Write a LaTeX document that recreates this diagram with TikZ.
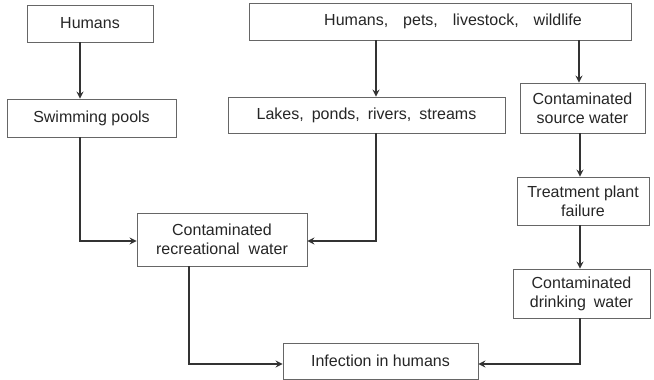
\documentclass[tikz,border=0pt]{standalone}
\usepackage{fontspec}
\setmainfont{Liberation Sans}
\usetikzlibrary{arrows.meta}
\newcommand{\gp}[1]{\hspace{#1pt}}
\begin{document}
\begin{tikzpicture}[x=1pt,y=-1pt,
  box/.style={draw=black!60, line width=0.9pt, inner sep=0pt, align=center,
    font=\fontsize{16}{19}\selectfont, text=black!85},
  flow/.style={draw=black!80, line width=1.4pt,
    -{Stealth[length=7pt,width=7pt,inset=2.5pt]}}]
\useasboundingbox[fill=white] (0,0) rectangle (654,380);
% boxes (centre, width, height)
\node[box, minimum width=126pt, minimum height=37pt] (hum) at (90,23.5) {Humans};
\node[box, minimum width=169pt, minimum height=38pt] (pool) at (91.5,118) {Swimming pools};
\node[box, minimum width=382pt, minimum height=37pt] (src) at (440,21.5) {\gp{26}Humans,\gp{15}pets,\gp{15}livestock,\gp{15}wildlife};
\node[box, minimum width=277pt, minimum height=36pt] (lake) at (366.5,115) {Lakes,\gp{8}ponds,\gp{8}rivers,\gp{8}streams};
\node[box, minimum width=125pt, minimum height=50pt] (sw) at (582.5,108) {Contaminated\\source water};
\node[box, minimum width=132pt, minimum height=48pt] (tp) at (583,201) {Treatment plant\\failure};
\node[box, minimum width=137pt, minimum height=49pt] (dw) at (581.5,293.5) {Contaminated\\drinking\gp{8}water};
\node[box, minimum width=170pt, minimum height=53pt] (rec) at (222,239.5) {Contaminated\\recreational\gp{9}water};
\node[box, minimum width=195pt, minimum height=36pt] (inf) at (380.5,361) {Infection in humans};
% connector columns
\coordinate (cA) at (80,0);
\coordinate (cB) at (376,0);
\coordinate (cC) at (579,0);
\coordinate (cD) at (580,0);
\coordinate (cE) at (189,0);
\coordinate (rowA) at (0,241);
\coordinate (rowB) at (0,364);
% connectors
\draw[flow] (hum.south -| cA) -- (pool.north -| cA);
\draw[flow] (src.south -| cB) -- (lake.north -| cB);
\draw[flow] (src.south -| cC) -- (sw.north -| cC);
\draw[flow] (sw.south -| cD) -- (tp.north -| cD);
\draw[flow] (tp.south -| cD) -- (dw.north -| cD);
\draw[flow] (pool.south -| cA) |- (rec.west |- rowA);
\draw[flow] (lake.south -| cB) |- (rec.east |- rowA);
\draw[flow] (rec.south -| cE) |- (inf.west |- rowB);
\draw[flow] (dw.south -| cD) |- (inf.east |- rowB);
\end{tikzpicture}
\end{document}
